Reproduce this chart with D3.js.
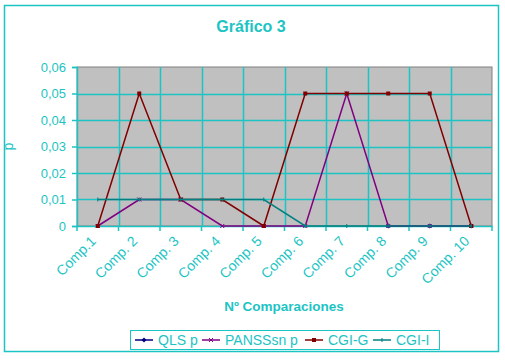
<!DOCTYPE html>
<html>
<head>
<meta charset="utf-8">
<script src="https://cdn.jsdelivr.net/npm/d3@7"></script>
<style>
  body { margin: 0; background: #fff; }
  text { font-family: "Liberation Sans", Arial, sans-serif; }
</style>
</head>
<body>
<div id="chart"></div>
<script>
// data
const categories = ["Comp.1", "Comp. 2", "Comp. 3", "Comp. 4", "Comp. 5",
                    "Comp. 6", "Comp. 7", "Comp. 8", "Comp. 9", "Comp. 10"];
const qlsP    = [null, null, null, null, null, null, null, 0, 0, 0];
const panssP  = [0, 0.01, 0.01, 0, 0, 0, 0.05, 0, 0, 0];
const cgiG    = [0, 0.05, 0.01, 0.01, 0, 0.05, 0.05, 0.05, 0.05, 0];
const cgiI    = [0.01, 0.01, 0.01, 0.01, 0.01, 0, 0, 0, 0, 0];
const yTicks  = [0, 0.01, 0.02, 0.03, 0.04, 0.05, 0.06];

const series = [
  {name: "QLS p",     values: qlsP,   color: "#000080", marker: "diamond"},
  {name: "PANSSsn p", values: panssP, color: "#800080", marker: "cross"},
  {name: "CGI-G",     values: cgiG,   color: "#800000", marker: "circle"},
  {name: "CGI-I",     values: cgiI,   color: "#008080", marker: "plus"}
];

const cyan = "#1cc4c4";
const W = 505, H = 363;
const margin = {top: 67, right: 13, bottom: 137, left: 77};

const svg = d3.select("#chart").append("svg")
  .attr("width", W)
  .attr("height", H);

// outer frame
svg.append("rect")
  .attr("x", 4.5).attr("y", 5.5)
  .attr("width", 494).attr("height", 346)
  .attr("fill", "#fff")
  .attr("stroke", cyan).attr("stroke-width", 1.5);

const x = d3.scaleBand()
  .domain(categories)
  .range([margin.left, W - margin.right]);

const y = d3.scaleLinear()
  .domain([0, 0.06])
  .range([H - margin.bottom, margin.top]);

const cx = (c) => x(c) + x.bandwidth() / 2;

// plot area
svg.append("rect")
  .attr("x", margin.left).attr("y", y(0.06))
  .attr("width", x.range()[1] - margin.left)
  .attr("height", y(0) - y(0.06))
  .attr("fill", "#c0c0c0")
  .attr("stroke", "#808080");

// gridlines
const grid = svg.append("g");
grid.selectAll("line.h")
  .data(yTicks.slice(1, -1))
  .join("line")
    .attr("class", "h")
    .attr("x1", margin.left).attr("x2", x.range()[1])
    .attr("y1", d => Math.round(y(d)) + 0.5).attr("y2", d => Math.round(y(d)) + 0.5)
    .attr("stroke", cyan).attr("stroke-width", 1.5);
grid.selectAll("line.v")
  .data(categories.slice(1))
  .join("line")
    .attr("class", "v")
    .attr("x1", d => Math.round(x(d)) + 0.5).attr("x2", d => Math.round(x(d)) + 0.5)
    .attr("y1", y(0.06)).attr("y2", y(0))
    .attr("stroke", cyan).attr("stroke-width", 1.5);

// Y axis
const yAxis = svg.append("g")
  .attr("transform", "translate(" + margin.left + ",0)")
  .call(d3.axisLeft(y).tickValues(yTicks).tickSize(5).tickPadding(6)
    .tickFormat(d => d === 0 ? "0" : d3.format(".2f")(d).replace(".", ",")));
yAxis.selectAll("path, line").attr("stroke", cyan).attr("stroke-width", 1.5);
yAxis.selectAll("text")
  .attr("fill", cyan)
  .style("font-size", "13px");

// X axis
const xAxis = svg.append("g")
  .attr("transform", "translate(0," + y(0) + ")")
  .call(d3.axisBottom(x).tickSize(0).tickFormat(""));
xAxis.select("path").attr("stroke", cyan).attr("stroke-width", 1.5);

svg.append("g").selectAll("line")
  .data(categories.concat(["end"]))
  .join("line")
    .attr("x1", (d, i) => i < categories.length ? x(d) : x.range()[1])
    .attr("x2", (d, i) => i < categories.length ? x(d) : x.range()[1])
    .attr("y1", y(0)).attr("y2", y(0) + 5)
    .attr("stroke", cyan).attr("stroke-width", 1.5);

svg.append("g").selectAll("text")
  .data(categories)
  .join("text")
    .attr("transform", d => "translate(" + (cx(d) - 1) + "," + (y(0) + 16) + ")rotate(-45)")
    .attr("text-anchor", "end")
    .attr("fill", cyan)
    .style("font-size", "14px")
    .text(d => d);

// lines
const line = d3.line()
  .defined(d => d.v !== null)
  .x(d => cx(d.c))
  .y(d => y(d.v));

series.forEach(s => {
  const pts = categories.map((c, i) => ({c: c, v: s.values[i]}));
  svg.append("path")
    .datum(pts)
    .attr("fill", "none")
    .attr("stroke", s.color)
    .attr("stroke-width", 1.5)
    .attr("d", line);

  const g = svg.append("g");
  const defined = pts.filter(d => d.v !== null);
  drawMarkers(g, defined.map(d => [cx(d.c), y(d.v)]), s);
});

function drawMarkers(g, coords, s) {
  coords.forEach(([px, py]) => {
    if (s.marker === "diamond") {
      g.append("path")
        .attr("d", `M${px},${py - 2.5}L${px + 2.5},${py}L${px},${py + 2.5}L${px - 2.5},${py}Z`)
        .attr("fill", s.color);
    } else if (s.marker === "circle") {
      g.append("rect")
        .attr("x", px - 2).attr("y", py - 2).attr("width", 4).attr("height", 4)
        .attr("fill", s.color);
    } else if (s.marker === "cross") {
      g.append("path")
        .attr("d", `M${px - 2},${py - 2}L${px + 2},${py + 2}M${px - 2},${py + 2}L${px + 2},${py - 2}`)
        .attr("stroke", s.color).attr("stroke-width", 1);
    } else {
      g.append("path")
        .attr("d", `M${px},${py - 2}L${px},${py + 2}`)
        .attr("stroke", s.color).attr("stroke-width", 1);
    }
  });
}

// titles
svg.append("text")
  .attr("x", 251).attr("y", 32)
  .attr("text-anchor", "middle")
  .attr("fill", cyan)
  .style("font-size", "16px").style("font-weight", "bold")
  .text("Gráfico 3");

svg.append("text")
  .attr("transform", "translate(13," + ((y(0) + y(0.06)) / 2) + ")rotate(-90)")
  .attr("text-anchor", "middle")
  .attr("fill", cyan)
  .style("font-size", "14px")
  .text("p");

svg.append("text")
  .attr("x", 284).attr("y", 311)
  .attr("text-anchor", "middle")
  .attr("fill", cyan)
  .style("font-size", "13.5px").style("font-weight", "bold")
  .text("Nº Comparaciones");

// legend
const legend = svg.append("g");
legend.append("rect")
  .attr("x", 130.5).attr("y", 330.5)
  .attr("width", 309).attr("height", 19)
  .attr("fill", "#fff")
  .attr("stroke", cyan);

const legendX = [135, 202, 305, 373];
series.forEach((s, i) => {
  const lx = legendX[i], ly = 340;
  legend.append("line")
    .attr("x1", lx).attr("x2", lx + 18)
    .attr("y1", ly).attr("y2", ly)
    .attr("stroke", s.color).attr("stroke-width", 1.5);
  drawMarkers(legend, [[lx + 9, ly]], s);
  legend.append("text")
    .attr("x", lx + 23).attr("y", ly + 5)
    .attr("fill", cyan)
    .style("font-size", "14px")
    .text(s.name);
});
</script>
</body>
</html>
